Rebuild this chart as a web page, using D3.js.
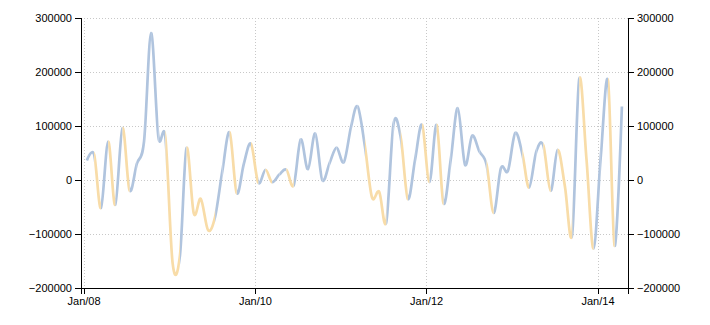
<!DOCTYPE html>
<html>
<head>
<meta charset="utf-8">
<script src="https://cdn.jsdelivr.net/npm/d3@7/dist/d3.min.js"></script>
<style>
  body { margin: 0; background: #fff; }
  svg { display: block; font-family: "Liberation Sans", Arial, sans-serif; }
  .axis text { font-size: 11px; fill: #000; }
  .axis path, .axis line { stroke: #000; shape-rendering: crispEdges; }
  .grid line { stroke: #c8c8c8; stroke-dasharray: 1,2; shape-rendering: crispEdges; }
</style>
</head>
<body>
<script>
// monthly series, Jan 2008 .. Apr 2014 (points sit mid-month)
const firstMonth = '2008-01-01';
const lastMonth = '2014-04-01';

const values = [
  36000, 47000, -52000, 71000, -46000, 96000, -19000, 30000, 72000, 272000,
  80000, 78000, -155000, -140000, 59000, -62000, -35000, -93000, -68000, 17000,
  88000, -24000, 31000, 67000, -5000, 19000, -4000, 10000, 19000, -10000,
  75000, 20000, 86000, 0, 31000, 60000, 33000, 99000, 136000, 62000,
  -32000, -22000, -78000, 104000, 78000, -35000, 38000, 102000, -4000, 102000,
  -43000, 38000, 133000, 28000, 82000, 53000, 28000, -61000, 22000, 17000,
  87000, 47000, -14000, 53000, 64000, -20000, 56000, -12000, -100000, 187000,
  38000, -127000, 44000, 183000, -122000, 136000
];

// colour group of each segment between two consecutive points (b = blue, o = orange)
const segmentGroups = ('bobobobbbb' + 'booboooobb' + 'obbobobbob' + 'bbbbbbbbbo' +
  'oobbobbobo' + 'bbbbbbobbb' + 'bobboboobo' + 'obbob').split('');

const yTicks = [-200000, -100000, 0, 100000, 200000, 300000];
const xTickDates = ['2008-01-01', '2010-01-01', '2012-01-01', '2014-01-01'];

const width = 710;
const height = 325;
const margin = { top: 18, right: 82, bottom: 37, left: 81 };
const colors = { b: '#b0c4de', o: '#f8dca8' };

const parse = d3.timeParse('%Y-%m-%d');
const months = d3.timeMonth.range(parse(firstMonth), d3.timeDay.offset(parse(lastMonth), 1))
  .map(d => new Date(d.getFullYear(), d.getMonth(), 15));
const data = values.map((v, i) => ({ date: months[i], value: v }));

const svg = d3.select('body').append('svg')
  .attr('width', width)
  .attr('height', height);

const x = d3.scaleTime()
  .domain([new Date(2007, 11, 21), new Date(2014, 4, 11)])
  .range([margin.left, width - margin.right]);

const y = d3.scaleLinear()
  .domain([-200000, 300000])
  .range([height - margin.bottom, margin.top]);

// gridlines
const grid = svg.append('g').attr('class', 'grid');
grid.selectAll('.hg')
  .data(yTicks)
  .join('line')
  .attr('class', 'hg')
  .attr('x1', margin.left)
  .attr('x2', width - margin.right)
  .attr('y1', d => Math.round(y(d)) + 0.5)
  .attr('y2', d => Math.round(y(d)) + 0.5);
grid.selectAll('.vg')
  .data(xTickDates.map(parse))
  .join('line')
  .attr('class', 'vg')
  .attr('x1', d => Math.round(x(d)) + 0.5)
  .attr('x2', d => Math.round(x(d)) + 0.5)
  .attr('y1', margin.top)
  .attr('y2', height - margin.bottom);

// line: one smooth path, shown through per-colour clip strips
const line = d3.line()
  .x(d => x(d.date))
  .y(d => y(d.value))
  .curve(d3.curveCardinal);

const defs = svg.append('defs');
['b', 'o'].forEach(g => {
  const clip = defs.append('clipPath').attr('id', 'clip-' + g);
  segmentGroups.forEach((s, i) => {
    if (s !== g) return;
    const x0 = x(data[i].date);
    const x1 = x(data[i + 1].date);
    const padL = i === 0 ? 5 : 0;
    const padR = i === segmentGroups.length - 1 ? 5 : 0;
    clip.append('rect')
      .attr('x', x0 - padL)
      .attr('width', x1 - x0 + padL + padR)
      .attr('y', 0)
      .attr('height', height);
  });
  svg.append('path')
    .datum(data)
    .attr('clip-path', 'url(#clip-' + g + ')')
    .attr('fill', 'none')
    .attr('stroke', colors[g])
    .attr('stroke-width', 2.7)
    .attr('d', line);
});

// axes
svg.append('g')
  .attr('class', 'axis')
  .attr('transform', `translate(${margin.left},0)`)
  .call(d3.axisLeft(y).tickValues(yTicks).tickFormat(d3.format('d')));

svg.append('g')
  .attr('class', 'axis')
  .attr('transform', `translate(${width - margin.right},0)`)
  .call(d3.axisRight(y).tickValues(yTicks).tickFormat(d3.format('d')));

svg.append('g')
  .attr('class', 'axis')
  .attr('transform', `translate(0,${height - margin.bottom})`)
  .call(d3.axisBottom(x).tickValues(xTickDates.map(parse)).tickFormat(d3.timeFormat('%b/%y')));

svg.selectAll('.axis text').attr('fill', '#000');
</script>
</body>
</html>
